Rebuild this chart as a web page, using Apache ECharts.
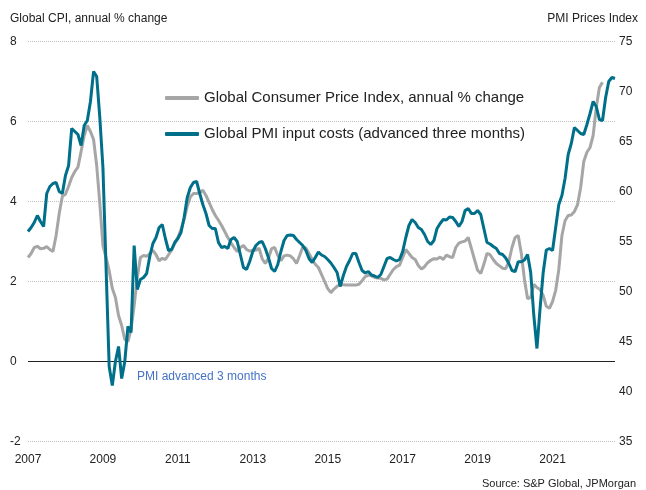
<!DOCTYPE html>
<html>
<head>
<meta charset="utf-8">
<script src="https://cdn.jsdelivr.net/npm/echarts@6/dist/echarts.min.js"></script>
<style>
html,body{margin:0;padding:0;background:#fff;}
#chart{width:646px;height:490px;}
</style>
</head>
<body>
<div id="chart"></div>
<script>
// ---- data ----
const startYear = 2007;
const yearTicks = ['2007','2009','2011','2013','2015','2017','2019','2021'];

// Global CPI, annual % change (monthly from Jan 2007)
const cpi = [
2.6,2.7,2.85,2.88,2.82,2.83,2.87,2.8,2.75,3.15,3.7,4.13,
4.18,4.38,4.6,4.75,4.86,5.25,5.65,5.9,5.75,5.55,4.9,3.95,
2.9,2.6,2.27,1.83,1.6,1.15,0.9,0.55,0.5,0.8,1.4,2.1,
2.6,2.65,2.63,2.7,2.78,2.67,2.52,2.58,2.55,2.67,2.79,2.95,
3.1,3.3,3.55,3.88,4.12,4.2,4.2,4.22,4.28,4.15,3.98,3.8,
3.65,3.53,3.4,3.25,3.1,2.97,2.85,2.75,2.85,2.9,2.8,2.76,
2.78,2.78,2.83,2.57,2.45,2.58,2.82,2.85,2.65,2.52,2.64,2.66,
2.64,2.57,2.45,2.65,2.86,2.84,2.7,2.55,2.43,2.35,2.18,2.0,
1.82,1.72,1.81,1.88,1.93,1.92,1.91,1.91,1.91,1.91,1.93,2.02,
2.12,2.16,2.14,2.1,2.09,2.08,2.04,2.06,2.18,2.3,2.37,2.41,
2.6,2.8,2.7,2.6,2.55,2.4,2.31,2.37,2.47,2.53,2.57,2.56,
2.61,2.55,2.66,2.62,2.6,2.85,2.96,2.99,3.01,3.1,2.83,2.55,
2.28,2.2,2.43,2.7,2.67,2.55,2.45,2.39,2.33,2.32,2.5,2.85,
3.1,3.15,2.7,2.05,1.57,1.6,1.93,1.85,1.8,1.65,1.38,1.33,
1.5,1.78,2.3,3.15,3.52,3.65,3.66,3.75,3.92,4.35,5.0,5.23,
5.35,5.65,6.35,6.85,6.98
];

// Global PMI input costs, advanced three months (monthly from Jan 2007)
const pmi = [
56.0,56.4,56.9,57.6,57.0,56.5,59.8,60.5,60.8,60.9,60.0,59.8,
61.6,62.6,66.3,66.0,65.7,64.6,66.6,67.1,69.0,72.0,71.5,67.4,
62.4,52.4,42.5,40.6,43.0,44.5,41.3,43.0,46.5,45.9,54.6,50.2,
51.2,51.4,51.8,53.5,54.8,55.4,56.4,56.7,55.3,54.1,54.2,54.9,
55.3,55.9,57.4,59.4,60.4,60.9,61.0,59.8,58.7,57.8,56.6,56.3,
56.3,54.9,54.4,54.5,54.3,55.2,55.4,55.0,53.7,52.4,52.2,53.0,
54.0,54.6,54.9,55.0,54.3,53.4,52.3,52.0,52.7,54.0,55.1,55.6,
55.65,55.6,55.2,54.9,54.6,54.1,53.3,52.9,53.4,53.95,53.65,53.5,
53.2,52.85,52.4,51.9,50.5,51.6,52.5,53.1,53.8,53.8,52.9,52.1,
51.85,52.0,51.65,51.55,51.4,51.7,52.5,53.3,53.4,53.2,53.05,53.2,
54.0,55.4,56.6,57.2,56.9,56.4,56.2,55.7,55.0,54.7,55.1,56.3,
56.8,57.2,57.15,57.45,57.4,57.0,56.5,57.0,58.1,58.3,57.8,57.8,
58.1,57.7,56.3,54.9,54.75,54.5,54.3,53.8,53.7,53.35,52.8,52.1,
51.98,52.98,52.98,53.15,53.7,51.9,47.6,44.3,48.3,51.9,54.15,54.3,
54.1,56.4,58.7,59.6,61.3,63.7,64.8,66.4,66.1,65.8,65.7,66.7,
67.8,69.0,68.5,67.2,67.1,69.4,71.0,71.4,71.3
];

const seriesNames = ['Global Consumer Price Index, annual % change','Global PMI input costs (advanced three months)'];

// month categories
const months = [];
for (let i = 0; i < pmi.length; i++) {
  const y = startYear + Math.floor(i / 12);
  const m = (i % 12) + 1;
  months.push(y + '-' + (m < 10 ? '0' + m : m));
}

const FONT = 'Liberation Sans, Arial, sans-serif';
const chart = echarts.init(document.getElementById('chart'), null, {renderer: 'canvas'});
const option = {
  animation: false,
  backgroundColor: '#ffffff',
  textStyle: {fontFamily: FONT},
  grid: {left: 28, right: 31, top: 41.5, bottom: 48.5, containLabel: false},
  legend: {
    orient: 'vertical',
    left: 160,
    top: 84,
    itemWidth: 34,
    itemHeight: 4,
    itemGap: 18,
    icon: 'roundRect',
    textStyle: {fontSize: 15, color: '#222', fontFamily: FONT, lineHeight: 18},
    data: seriesNames
  },
  xAxis: {
    type: 'category',
    data: months,
    boundaryGap: false,
    axisLine: {show: false},
    axisTick: {show: false},
    splitLine: {show: false},
    axisLabel: {
      interval: function (idx) { return idx % 24 === 0; },
      formatter: function (v) {
        const y = v.slice(0, 4);
        return yearTicks.indexOf(y) >= 0 ? y : '';
      },
      color: '#222', fontSize: 12, margin: 12, fontFamily: FONT
    }
  },
  yAxis: [
    {
      type: 'value', min: -2, max: 8, interval: 2,
      axisLine: {show: false}, axisTick: {show: false},
      axisLabel: {align: 'left', margin: 18, color: '#222', fontSize: 12, fontFamily: FONT},
      splitLine: {show: true, lineStyle: {type: 'dotted', color: '#c0c0c0', width: 1}}
    },
    {
      type: 'value', min: 35, max: 75, interval: 5, position: 'right',
      axisLine: {show: false}, axisTick: {show: false},
      axisLabel: {margin: 4, color: '#222', fontSize: 12, fontFamily: FONT},
      splitLine: {show: false}
    }
  ],
  series: [
    {
      name: seriesNames[0],
      type: 'line',
      yAxisIndex: 0,
      data: cpi,
      symbol: 'none',
      smooth: false,
      z: 2,
      itemStyle: {color: '#a6a6a6'},
      lineStyle: {color: '#a6a6a6', width: 3},
      markLine: {
        silent: true, symbol: ['none', 'none'], label: {show: false},
        lineStyle: {color: '#222', type: 'solid', width: 1.2},
        data: [{yAxis: 0}],
        z: 1
      }
    },
    {
      name: seriesNames[1],
      type: 'line',
      yAxisIndex: 1,
      data: pmi,
      symbol: 'none',
      smooth: false,
      z: 3,
      itemStyle: {color: '#006f8a'},
      lineStyle: {color: '#006f8a', width: 3}
    }
  ],
  graphic: [
    {type: 'text', left: 10, top: 13, style: {text: 'Global CPI, annual % change', fontSize: 12, fill: '#222', fontFamily: FONT}},
    {type: 'text', right: 8, top: 13, style: {text: 'PMI Prices Index', fontSize: 12, fill: '#222', fontFamily: FONT}},
    {type: 'text', left: 137, top: 371, style: {text: 'PMI advanced 3 months', fontSize: 12, fill: '#4472c4', fontFamily: FONT}},
    {type: 'text', right: 10, top: 478, style: {text: 'Source: S&P Global, JPMorgan', fontSize: 11, fill: '#222', fontFamily: FONT}}
  ]
};
chart.setOption(option);
</script>
</body>
</html>
